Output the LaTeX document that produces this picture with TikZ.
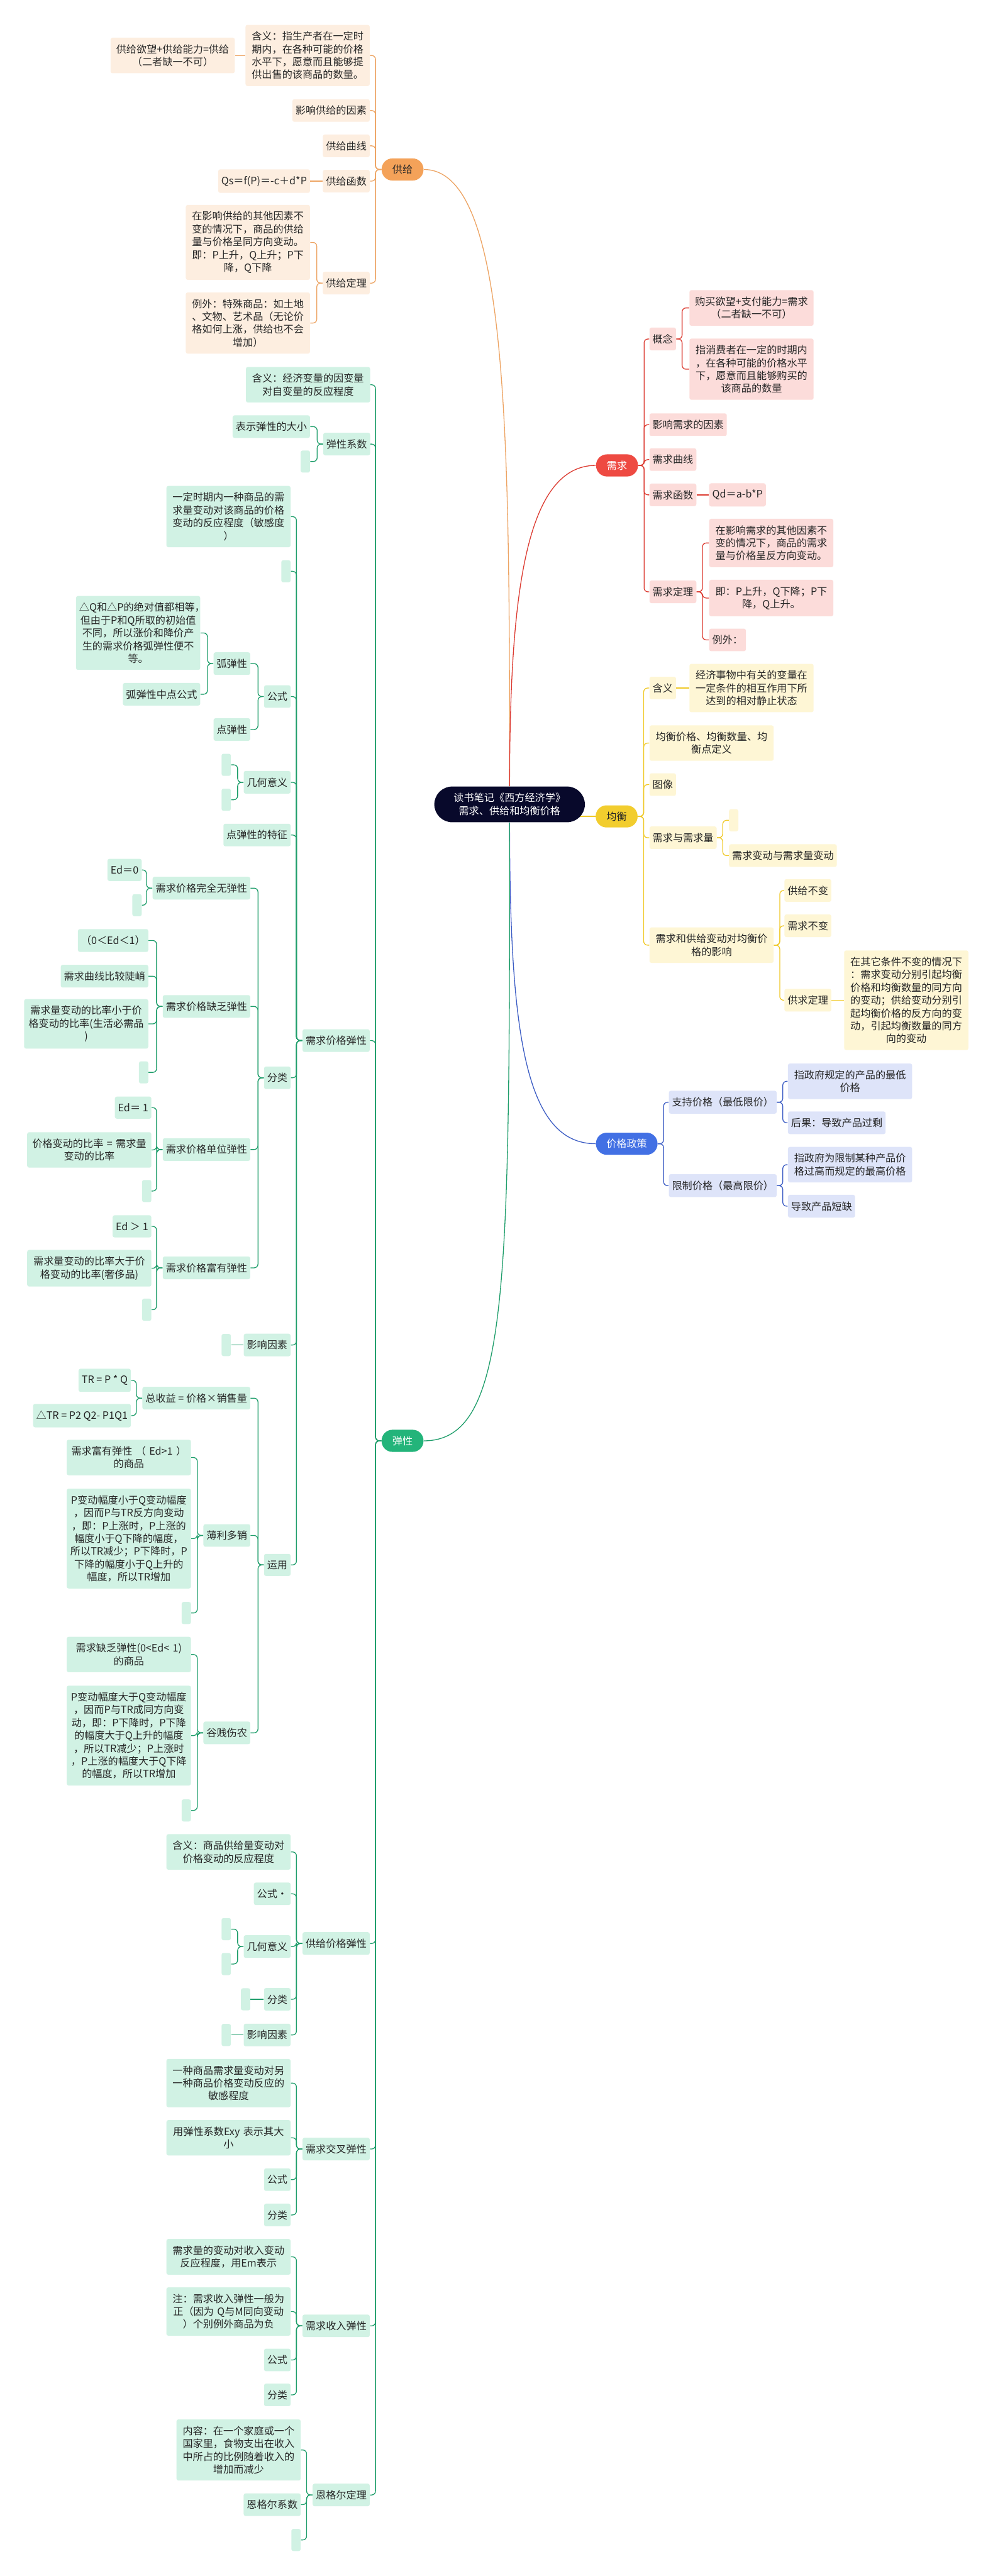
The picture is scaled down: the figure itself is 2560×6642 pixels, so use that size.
\documentclass[tikz,border=0pt]{standalone}
\usepackage{fontspec}
\setmainfont{Noto Sans CJK SC}
\usetikzlibrary{backgrounds}
\definecolor{ink}{HTML}{262626}
\definecolor{rootc}{HTML}{08092B}
\definecolor{supc}{HTML}{F4A259}
\definecolor{supbg}{HTML}{FDEEE0}
\definecolor{supln}{HTML}{EDA463}
\definecolor{demc}{HTML}{EE4A42}
\definecolor{dembg}{HTML}{FCDCDA}
\definecolor{demln}{HTML}{DC3B31}
\definecolor{eqc}{HTML}{F2CD2E}
\definecolor{eqbg}{HTML}{FEF6D5}
\definecolor{eqln}{HTML}{F0C928}
\definecolor{polc}{HTML}{4270E4}
\definecolor{polbg}{HTML}{DEE4F9}
\definecolor{polln}{HTML}{3B5CC4}
\definecolor{elc}{HTML}{23B47A}
\definecolor{elbg}{HTML}{D1F2E4}
\definecolor{elln}{HTML}{1F9E6B}
\newcommand\mapfont{\fontsize{7.45pt}{9.4pt}\selectfont}
\tikzset{
  topic/.style={rounded corners=0.05cm, inner xsep=0.08cm, inner ysep=0.17cm,
    minimum height=0.57cm, font=\mapfont, text=ink, align=center},
  wide/.style={text width=3.04cm},
  blank/.style={minimum width=0.24cm, inner xsep=0pt},
  supbox/.style={topic, fill=supbg},
  dembox/.style={topic, fill=dembg},
  eqbox/.style={topic, fill=eqbg},
  polbox/.style={topic, fill=polbg},
  elbox/.style={topic, fill=elbg},
  branch/.style={rounded corners=0.28cm, minimum height=0.57cm, minimum width=1.08cm,
    inner xsep=0.27cm, font=\mapfont},
  rootnode/.style={fill=rootc, text=white, rounded corners=0.46cm, minimum width=3.88cm,
    minimum height=0.92cm, align=center, font=\mapfont},
  link/.style={line width=0.6pt, rounded corners=0.1cm}
}

\begin{document}
\begin{tikzpicture}[x=0.01cm, y=-0.01cm]
  \useasboundingbox (0,0) rectangle (2560,6642);

  % root
  \node[rootnode] (root) at (1314,2074) {读书笔记《西方经济学》\\需求、供给和均衡价格};

  % supply
  \node[branch, fill=supc, text=ink] (sup) at (1038,437) {供给};
  \node[supbox, wide, anchor=east] (supDef) at (954,143) {含义：指生产者在一定时\\期内，在各种可能的价格\\水平下，愿意而且能够提\\供出售的该商品的数量。};
  \node[supbox, wide, anchor=east] (supWish) at (606,143) {供给欲望+供给能力=供给\\（二者缺一不可）};
  \node[supbox, anchor=east] (supFac) at (954,285) {影响供给的因素};
  \node[supbox, anchor=east] (supCurve) at (954,376) {供给曲线};
  \node[supbox, anchor=east] (supFunc) at (954,467) {供给函数};
  \node[supbox, anchor=east] (supForm) at (800,467) {Qs＝f(P)＝-c＋d*P};
  \node[supbox, anchor=east] (supLaw) at (954,730) {供给定理};
  \node[supbox, wide, anchor=east] (supLawA) at (800,625) {在影响供给的其他因素不\\变的情况下，商品的供给\\量与价格呈同方向变动。\\即：P上升，Q上升；P下\\降，Q下降};
  \node[supbox, wide, anchor=east] (supLawB) at (800,833) {例外：特殊商品：如土地\\、文物、艺术品（无论价\\格如何上涨，供给也不会\\增加）};

  % demand
  \node[branch, fill=demc, text=white] (dem) at (1591,1200) {需求};
  \node[dembox, anchor=west] (demCon) at (1674,874) {概念};
  \node[dembox, wide, anchor=west] (demWish) at (1777,794) {购买欲望+支付能力=需求\\（二者缺一不可）};
  \node[dembox, wide, anchor=west] (demDef) at (1777,952) {指消费者在一定的时期内\\，在各种可能的价格水平\\下，愿意而且能够购买的\\该商品的数量};
  \node[dembox, anchor=west] (demFac) at (1674,1095) {影响需求的因素};
  \node[dembox, anchor=west] (demCurve) at (1674,1185) {需求曲线};
  \node[dembox, anchor=west] (demFunc) at (1674,1276) {需求函数};
  \node[dembox, anchor=west] (demForm) at (1828,1276) {Qd＝a-b*P};
  \node[dembox, anchor=west] (demLaw) at (1674,1526) {需求定理};
  \node[dembox, wide, anchor=west] (demLawA) at (1828,1400) {在影响需求的其他因素不\\变的情况下，商品的需求\\量与价格呈反方向变动。};
  \node[dembox, wide, anchor=west] (demLawB) at (1828,1542) {即：P上升，Q下降；P下\\降，Q上升。};
  \node[dembox, anchor=west] (demLawC) at (1828,1650) {例外：};

  % equilibrium
  \node[branch, fill=eqc, text=ink] (eq) at (1590,2105) {均衡};
  \node[eqbox, anchor=west] (eqDef) at (1674,1774) {含义};
  \node[eqbox, wide, anchor=west] (eqDefT) at (1777,1774) {经济事物中有关的变量在\\一定条件的相互作用下所\\达到的相对静止状态};
  \node[eqbox, wide, anchor=west] (eqPrice) at (1674,1916) {均衡价格、均衡数量、均\\衡点定义};
  \node[eqbox, anchor=west] (eqGraph) at (1674,2023) {图像};
  \node[eqbox, anchor=west] (eqDq) at (1674,2160) {需求与需求量};
  \node[eqbox, blank, anchor=west] (eqDqE) at (1879,2115) {};
  \node[eqbox, anchor=west] (eqDqB) at (1879,2206) {需求变动与需求量变动};
  \node[eqbox, wide, anchor=west] (eqEff) at (1674,2437) {需求和供给变动对均衡价\\格的影响};
  \node[eqbox, anchor=west] (eqS) at (2022,2296) {供给不变};
  \node[eqbox, anchor=west] (eqD) at (2022,2387) {需求不变};
  \node[eqbox, anchor=west] (eqLaw) at (2022,2579) {供求定理};
  \node[eqbox, wide, anchor=west] (eqLawT) at (2176,2579) {在其它条件不变的情况下\\：需求变动分别引起均衡\\价格和均衡数量的同方向\\的变动；供给变动分别引\\起均衡价格的反方向的变\\动，引起均衡数量的同方\\向的变动};

  % price policy
  \node[branch, fill=polc, text=white] (pol) at (1616,2949) {价格政策};
  \node[polbox, anchor=west] (polSup) at (1724,2842) {支持价格（最低限价）};
  \node[polbox, wide, anchor=west] (polSupA) at (2031,2788) {指政府规定的产品的最低\\价格};
  \node[polbox, anchor=west] (polSupB) at (2031,2895) {后果：导致产品过剩};
  \node[polbox, anchor=west] (polLim) at (1724,3057) {限制价格（最高限价）};
  \node[polbox, wide, anchor=west] (polLimA) at (2031,3003) {指政府为限制某种产品价\\格过高而规定的最高价格};
  \node[polbox, anchor=west] (polLimB) at (2031,3110) {导致产品短缺};

  % elasticity
  \node[branch, fill=elc, text=white] (el) at (1038,3715) {弹性};
  \node[elbox, wide, anchor=east] (elMean) at (955,992) {含义：经济变量的因变量\\对自变量的反应程度};
  \node[elbox, anchor=east] (elCoef) at (955,1145) {弹性系数};
  \node[elbox, anchor=east] (elCoefA) at (800,1100) {表示弹性的大小};
  \node[elbox, blank, anchor=east] (elCoefB) at (800,1190) {};
  \node[elbox, anchor=east] (elDP) at (954,2683) {需求价格弹性};
  \node[elbox, wide, anchor=east] (dpDef) at (750,1332) {一定时期内一种商品的需\\求量变动对该商品的价格\\变动的反应程度（敏感度\\）};
  \node[elbox, blank, anchor=east] (dpE) at (750,1473) {};
  \node[elbox, anchor=east] (dpForm) at (750,1796) {公式};
  \node[elbox, anchor=east] (dpArc) at (646,1711) {弧弹性};
  \node[elbox, wide, anchor=east] (dpArcA) at (517,1632) {△Q和△P的绝对值都相等，\\但由于P和Q所取的初始值\\不同，所以涨价和降价产\\生的需求价格弧弹性便不\\等。};
  \node[elbox, anchor=east] (dpArcB) at (517,1790) {弧弹性中点公式};
  \node[elbox, anchor=east] (dpPoint) at (646,1881) {点弹性};
  \node[elbox, anchor=east] (dpGeo) at (750,2017) {几何意义};
  \node[elbox, blank, anchor=east] (dpGeoA) at (596,1972) {};
  \node[elbox, blank, anchor=east] (dpGeoB) at (596,2062) {};
  \node[elbox, anchor=east] (dpFeat) at (750,2153) {点弹性的特征};
  \node[elbox, anchor=east] (dpClass) at (750,2779) {分类};
  \node[elbox, anchor=east] (dpC0) at (646,2290) {需求价格完全无弹性};
  \node[elbox, anchor=east] (dpC0a) at (366,2243) {Ed＝0};
  \node[elbox, blank, anchor=east] (dpC0b) at (366,2334) {};
  \node[elbox, anchor=east] (dpC1) at (646,2595) {需求价格缺乏弹性};
  \node[elbox, anchor=east] (dpC1a) at (383,2425) {（0＜Ed＜1）};
  \node[elbox, anchor=east] (dpC1b) at (383,2517) {需求曲线比较陡峭};
  \node[elbox, wide, anchor=east] (dpC1c) at (383,2640) {需求量变动的比率小于价\\格变动的比率(生活必需品\\)};
  \node[elbox, blank, anchor=east] (dpC1d) at (383,2765) {};
  \node[elbox, anchor=east] (dpC2) at (646,2964) {需求价格单位弹性};
  \node[elbox, anchor=east] (dpC2a) at (391,2856) {Ed＝ 1};
  \node[elbox, wide, anchor=east] (dpC2b) at (391,2965) {价格变动的比率 = 需求量\\变动的比率};
  \node[elbox, blank, anchor=east] (dpC2c) at (391,3071) {};
  \node[elbox, anchor=east] (dpC3) at (646,3269) {需求价格富有弹性};
  \node[elbox, anchor=east] (dpC3a) at (391,3162) {Ed ＞ 1};
  \node[elbox, wide, anchor=east] (dpC3b) at (391,3270) {需求量变动的比率大于价\\格变动的比率(奢侈品)};
  \node[elbox, blank, anchor=east] (dpC3c) at (391,3377) {};
  \node[elbox, anchor=east] (dpFac) at (750,3468) {影响因素};
  \node[elbox, blank, anchor=east] (dpFacA) at (596,3468) {};
  \node[elbox, anchor=east] (dpUse) at (750,4035) {运用};
  \node[elbox, anchor=east] (dpTR) at (646,3605) {总收益 = 价格×销售量};
  \node[elbox, anchor=east] (dpTRa) at (338,3559) {TR = P * Q};
  \node[elbox, anchor=east] (dpTRb) at (338,3650) {△TR = P2 Q2- P1Q1};
  \node[elbox, anchor=east] (dpThin) at (646,3959) {薄利多销};
  \node[elbox, wide, anchor=east] (dpThinA) at (493,3758) {需求富有弹性 （ Ed>1 ）\\的商品};
  \node[elbox, wide, anchor=east] (dpThinB) at (493,3967) {P变动幅度小于Q变动幅度\\，因而P与TR反方向变动\\，即：P上涨时，P上涨的\\幅度小于Q下降的幅度，\\所以TR减少；P下降时，P\\下降的幅度小于Q上升的\\幅度，所以TR增加};
  \node[elbox, blank, anchor=east] (dpThinC) at (493,4159) {};
  \node[elbox, anchor=east] (dpGu) at (646,4468) {谷贱伤农};
  \node[elbox, wide, anchor=east] (dpGuA) at (493,4266) {需求缺乏弹性(0<Ed< 1)\\的商品};
  \node[elbox, wide, anchor=east] (dpGuB) at (493,4475) {P变动幅度大于Q变动幅度\\，因而P与TR成同方向变\\动，即：P下降时，P下降\\的幅度大于Q上升的幅度\\，所以TR减少；P上涨时\\，P上涨的幅度大于Q下降\\的幅度，所以TR增加};
  \node[elbox, blank, anchor=east] (dpGuC) at (493,4668) {};
  \node[elbox, anchor=east] (elSP) at (954,5011) {供给价格弹性};
  \node[elbox, wide, anchor=east] (spDef) at (750,4775) {含义：商品供给量变动对\\价格变动的反应程度};
  \node[elbox, anchor=east] (spForm) at (750,4883) {公式·};
  \node[elbox, anchor=east] (spGeo) at (750,5019) {几何意义};
  \node[elbox, blank, anchor=east] (spGeoA) at (596,4974) {};
  \node[elbox, blank, anchor=east] (spGeoB) at (596,5064) {};
  \node[elbox, anchor=east] (spClass) at (750,5155) {分类};
  \node[elbox, blank, anchor=east] (spClassA) at (646,5155) {};
  \node[elbox, anchor=east] (spFac) at (750,5247) {影响因素};
  \node[elbox, blank, anchor=east] (spFacA) at (596,5247) {};
  \node[elbox, anchor=east] (elCross) at (954,5541) {需求交叉弹性};
  \node[elbox, wide, anchor=east] (crDef) at (750,5371) {一种商品需求量变动对另\\一种商品价格变动反应的\\敏感程度};
  \node[elbox, wide, anchor=east] (crCoef) at (750,5512) {用弹性系数Exy 表示其大\\小};
  \node[elbox, anchor=east] (crForm) at (750,5620) {公式};
  \node[elbox, anchor=east] (crClass) at (750,5711) {分类};
  \node[elbox, anchor=east] (elInc) at (954,5997) {需求收入弹性};
  \node[elbox, wide, anchor=east] (inDef) at (750,5819) {需求量的变动对收入变动\\反应程度，用Em表示};
  \node[elbox, wide, anchor=east] (inNote) at (750,5960) {注：需求收入弹性一般为\\正（因为 Q与M同向变动\\）个别例外商品为负};
  \node[elbox, anchor=east] (inForm) at (750,6085) {公式};
  \node[elbox, anchor=east] (inClass) at (750,6175) {分类};
  \node[elbox, anchor=east] (elEngel) at (954,6433) {恩格尔定理};
  \node[elbox, wide, anchor=east] (enDef) at (776,6317) {内容：在一个家庭或一个\\国家里，食物支出在收入\\中所占的比例随着收入的\\增加而减少};
  \node[elbox, anchor=east] (enCoef) at (776,6458) {恩格尔系数};
  \node[elbox, blank, anchor=east] (enE) at (776,6549) {};

  \begin{scope}[on background layer]
    \fill[white] (0,0) rectangle (2560,6642);
    % root to branches
    \draw[link, supln] (root.north) .. controls +(0,-900) and +(220,0) .. (sup.east);
    \draw[link, demln] (root.north) .. controls +(0,-500) and +(-180,0) .. (dem.west);
    \draw[link, eqln] (root.center |- eq.west) -- (eq.west);
    \draw[link, polln] (root.south) .. controls +(0,550) and +(-180,0) .. (pol.west);
    \draw[link, elln] (root.south) .. controls +(0,1200) and +(220,0) .. (el.east);
    % single children in line
    \draw[link, supln] (supDef.west) -- (supWish.east);
    \draw[link, supln] (supFunc.west) -- (supForm.east);
    \draw[link, demln] (demFunc.east) -- (demForm.west);
    \draw[link, eqln] (eqDef.east) -- (eqDefT.west);
    \draw[link, eqln] (eqLaw.east) -- (eqLawT.west);
    \foreach \p/\c in {dpFac/dpFacA, spClass/spClassA, spFac/spFacA}
      \draw[link, elln] (\p.west) -- (\c.east);
    % left side trees
    \foreach \p/\c in {sup/supDef, sup/supFac, sup/supCurve, sup/supFunc, sup/supLaw,
        supLaw/supLawA, supLaw/supLawB}
      \draw[link, supln] (\p.west) -- ++(-15,0) |- (\c.east);
    \foreach \p/\c in {el/elMean, el/elCoef, el/elDP, el/elSP, el/elCross, el/elInc, el/elEngel,
        elCoef/elCoefA, elCoef/elCoefB,
        elDP/dpDef, elDP/dpE, elDP/dpForm, elDP/dpGeo, elDP/dpFeat, elDP/dpClass, elDP/dpFac, elDP/dpUse,
        dpForm/dpArc, dpForm/dpPoint, dpArc/dpArcA, dpArc/dpArcB, dpGeo/dpGeoA, dpGeo/dpGeoB,
        dpClass/dpC0, dpClass/dpC1, dpClass/dpC2, dpClass/dpC3,
        dpC0/dpC0a, dpC0/dpC0b, dpC1/dpC1a, dpC1/dpC1b, dpC1/dpC1c, dpC1/dpC1d,
        dpC2/dpC2a, dpC2/dpC2b, dpC2/dpC2c, dpC3/dpC3a, dpC3/dpC3b, dpC3/dpC3c,
        dpUse/dpTR, dpUse/dpThin, dpUse/dpGu, dpTR/dpTRa, dpTR/dpTRb,
        dpThin/dpThinA, dpThin/dpThinB, dpThin/dpThinC, dpGu/dpGuA, dpGu/dpGuB, dpGu/dpGuC,
        elSP/spDef, elSP/spForm, elSP/spGeo, elSP/spClass, elSP/spFac,
        spGeo/spGeoA, spGeo/spGeoB,
        elCross/crDef, elCross/crCoef, elCross/crForm, elCross/crClass,
        elInc/inDef, elInc/inNote, elInc/inForm, elInc/inClass,
        elEngel/enDef, elEngel/enCoef, elEngel/enE}
      \draw[link, elln] (\p.west) -- ++(-15,0) |- (\c.east);
    % right side trees
    \foreach \p/\c in {dem/demCon, dem/demFac, dem/demCurve, dem/demFunc, dem/demLaw,
        demCon/demWish, demCon/demDef, demLaw/demLawA, demLaw/demLawB, demLaw/demLawC}
      \draw[link, demln] (\p.east) -- ++(15,0) |- (\c.west);
    \foreach \p/\c in {eq/eqDef, eq/eqPrice, eq/eqGraph, eq/eqDq, eq/eqEff,
        eqDq/eqDqE, eqDq/eqDqB, eqEff/eqS, eqEff/eqD, eqEff/eqLaw}
      \draw[link, eqln] (\p.east) -- ++(15,0) |- (\c.west);
    \foreach \p/\c in {pol/polSup, pol/polLim, polSup/polSupA, polSup/polSupB, polLim/polLimA, polLim/polLimB}
      \draw[link, polln] (\p.east) -- ++(15,0) |- (\c.west);
  \end{scope}
\end{tikzpicture}
\end{document}
